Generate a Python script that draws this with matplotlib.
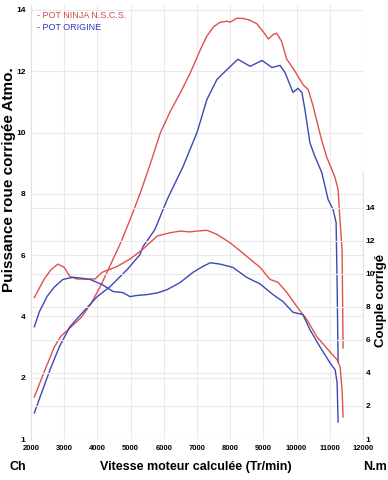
import matplotlib
matplotlib.use('Agg')
import matplotlib.pyplot as plt

plt.rcParams['font.family'] = ['Liberation Sans', 'DejaVu Sans']

# regime moteur (tr/min) et puissance (ch) - pot ninja
ninja_rpm = [2100, 2400, 2700, 2900, 3200, 3500, 3800, 4100, 4400, 4700, 5000, 5300, 5600,
             5900, 6200, 6500, 6800, 7100, 7300, 7500, 7700, 7900, 8000, 8200, 8400, 8600,
             8800, 9000, 9150, 9300, 9400, 9550, 9700, 9950, 10200, 10350, 10500, 10650,
             10750, 10900, 11000, 11150, 11250, 11300, 11370, 11400]
ninja_ch = [1.37, 2.2, 3.0, 3.35, 3.65, 3.95, 4.4, 5.0, 5.7, 6.4, 7.2, 8.05, 9.0,
            10.0, 10.7, 11.3, 11.95, 12.7, 13.15, 13.45, 13.6, 13.63, 13.6, 13.73, 13.72, 13.66,
            13.55, 13.28, 13.05, 13.2, 13.24, 12.97, 12.4, 12.0, 11.55, 11.4, 10.85, 10.2,
            9.77, 9.22, 8.95, 8.56, 8.14, 7.25, 6.18, 2.97]

# pot origine
orig_rpm = [2100, 2350, 2570, 2850, 3170, 3450, 3700, 3990, 4380, 4890, 5280, 5370, 5730,
            6100, 6580, 7000, 7300, 7600, 7930, 8230, 8600, 8960, 9260, 9500, 9650, 9890,
            10040, 10160, 10250, 10400, 10550, 10760, 10950, 11100, 11190, 11220, 11250]
orig_ch = [0.85, 1.6, 2.25, 3.0, 3.66, 4.0, 4.3, 4.64, 4.97, 5.52, 6.01, 6.27, 6.83,
           7.81, 8.89, 10.0, 11.08, 11.73, 12.08, 12.39, 12.16, 12.35, 12.12, 12.19, 11.96, 11.31,
           11.44, 11.31, 10.75, 9.67, 9.22, 8.69, 7.81, 7.48, 7.06, 5.1, 2.5]

# couple (N.m)
ninja_trq_rpm = [2100, 2400, 2600, 2810, 3000, 3170, 3380, 3700, 3930, 4140, 4590, 4980, 5370,
                 5800, 6190, 6500, 6790, 7000, 7300, 7600, 7990, 8300, 8600, 8900, 9200, 9440,
                 9710, 10010, 10310, 10610, 10950, 11220, 11310, 11370, 11400]
ninja_nm = [8.57, 9.7, 10.25, 10.6, 10.4, 9.85, 9.7, 9.68, 9.7, 10.1, 10.45, 10.9, 11.5,
            12.3, 12.5, 12.6, 12.55, 12.6, 12.65, 12.4, 11.9, 11.4, 10.9, 10.4, 9.67, 9.5,
            8.87, 8.02, 7.23, 6.2, 5.41, 4.8, 4.38, 2.98, 1.34]

orig_trq_rpm = [2100, 2250, 2480, 2700, 2960, 3270, 3500, 3780, 4140, 4470, 4770, 4980, 5200,
                5490, 5800, 6100, 6490, 6880, 7180, 7400, 7690, 8080, 8500, 8900, 9290, 9590,
                9890, 10190, 10400, 10700, 11010, 11160, 11220, 11250]
orig_nm = [6.8, 7.7, 8.63, 9.2, 9.67, 9.8, 9.75, 9.67, 9.36, 8.94, 8.87, 8.63, 8.7,
           8.75, 8.85, 9.05, 9.48, 10.1, 10.46, 10.68, 10.6, 10.4, 9.79, 9.4, 8.75, 8.33,
           7.68, 7.54, 6.63, 5.6, 4.6, 4.2, 3.4, 1.03]

x_ticks = [2000, 3000, 4000, 5000, 6000, 7000, 8000, 9000, 10000, 11000, 12000]
ch_ticks = [0, 2, 4, 6, 8, 10, 12, 14]
ch_labels = ['1', '2', '4', '6', '8', '10', '12', '14']
nm_ticks = [0, 2, 4, 6, 8, 10, 12, 14]
nm_labels = ['1', '2', '4', '6', '8', '10', '12', '14']

red = '#e0504c'
blue = '#3c48b4'
grid_col = '#ece8ee'

fig = plt.figure(figsize=(3.88, 4.8), dpi=100)
ax = fig.add_axes([31 / 388, 41 / 480, 332 / 388, 434 / 480])
ax2 = ax.twinx()

ax.plot(ninja_rpm, ninja_ch, color=red, lw=1.0)
ax.plot(orig_rpm, orig_ch, color=blue, lw=1.0)
ax2.plot(ninja_trq_rpm, ninja_nm, color=red, lw=1.0)
ax2.plot(orig_trq_rpm, orig_nm, color=blue, lw=1.0)

ax.set_xlim(2000, 12000)
ax.set_ylim(0, 14.16)
ax2.set_ylim(0, 26.3)

ax.set_xticks(x_ticks)
ax.set_xticklabels([str(v) for v in x_ticks], fontsize=5.5, fontweight='bold')
ax.set_yticks(ch_ticks)
ax.set_yticklabels(ch_labels, fontsize=6, fontweight='bold')
ax2.set_yticks(nm_ticks)
ax2.set_yticklabels(nm_labels, fontsize=6, fontweight='bold')

ax.tick_params(length=0, pad=4)
ax2.tick_params(length=0, pad=2)

ax.grid(True, color=grid_col, lw=0.8)
ax2.yaxis.grid(True, color=grid_col, lw=0.8)
ax.set_axisbelow(True)
ax2.set_axisbelow(True)

for s in ['top', 'right', 'bottom']:
    ax.spines[s].set_visible(False)
ax.spines['left'].set_color('#f2d6e6')
for s in ['top', 'left', 'bottom']:
    ax2.spines[s].set_visible(False)
ax2.spines['right'].set_color('#e2e2e6')
ax2.spines['right'].set_bounds(0, 16.2)

fig.text(9 / 388, 1 - 180 / 480, 'Puissance roue corrigée Atmo.', rotation=90,
         ha='center', va='center', fontsize=11, fontweight='bold')
fig.text(381 / 388, 1 - 300 / 480, 'Couple corrigé', rotation=90,
         ha='center', va='center', fontsize=9.5, fontweight='bold')
fig.text(196 / 388, 1 - 467 / 480, 'Vitesse moteur calculée (Tr/min)',
         ha='center', va='center', fontsize=9, fontweight='bold')
fig.text(9 / 388, 1 - 467 / 480, 'Ch', ha='left', va='center', fontsize=9, fontweight='bold')
fig.text(387 / 388, 1 - 467 / 480, 'N.m', ha='right', va='center', fontsize=9, fontweight='bold')

fig.text(37 / 388, 1 - 16 / 480, '- POT NINJA N.S.C.S.', color='#d04848', fontsize=6.5,
         ha='left', va='center')
fig.text(37 / 388, 1 - 27 / 480, '- POT ORIGINE', color='#3038b8', fontsize=6.5,
         ha='left', va='center')

fig.savefig('out.png', dpi=100, facecolor='white')
